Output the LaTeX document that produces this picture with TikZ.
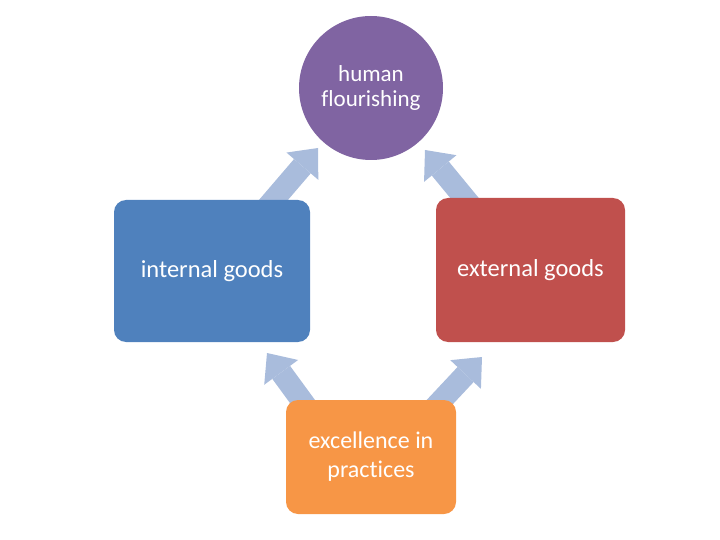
\documentclass[tikz,border=0pt]{standalone}
\usepackage{fontspec}
\setmainfont[Ligatures=NoCommon]{Carlito}
\usetikzlibrary{arrows.meta}
\definecolor{cpurple}{HTML}{8064A2}
\definecolor{cblue}{HTML}{4F81BD}
\definecolor{cred}{HTML}{C0504D}
\definecolor{corange}{HTML}{F79646}
\definecolor{carrow}{HTML}{A9BCDC}
\tikzset{
  goodbox/.style={draw=none, rounded corners=12pt, text=white, align=center, inner sep=0pt},
  blockarrow/.style={draw=carrow, line width=22pt,
    -{Triangle[length=24pt,width=42pt,line width=0pt]}},
}
\begin{document}
\begin{tikzpicture}[x=1pt,y=-1pt]
\useasboundingbox (0,0) rectangle (720,540);
% arrow end points
\coordinate (t1) at (258,218);
\coordinate (h1) at (318,148);
\coordinate (t2) at (481,218);
\coordinate (h2) at (425,150);
\coordinate (t3) at (316,420);
\coordinate (h3) at (267,353);
\coordinate (t4) at (423,420);
\coordinate (h4) at (482,357);
\draw[blockarrow] (t1) -- (h1);
\draw[blockarrow] (t2) -- (h2);
\draw[blockarrow] (t3) -- (h3);
\draw[blockarrow] (t4) -- (h4);
% shapes
\node[circle, fill=cpurple, minimum size=144pt, inner sep=0pt, text=white, align=center,
      font=\fontsize{23}{25}\selectfont] (hf) at (371,88) {human\\flourishing};
\node[goodbox, fill=cblue, minimum width=196pt, minimum height=142pt,
      font=\fontsize{24.5}{28}\selectfont] (ig) at (212,271) {internal goods};
\node[goodbox, fill=cred, minimum width=189pt, minimum height=144pt,
      font=\fontsize{24.5}{28}\selectfont] (eg) at (530.5,270) {external goods};
\node[goodbox, fill=corange, minimum width=170pt, minimum height=114pt,
      font=\fontsize{24}{29}\selectfont] (ex) at (371,457) {excellence in\\practices};
\end{tikzpicture}
\end{document}
